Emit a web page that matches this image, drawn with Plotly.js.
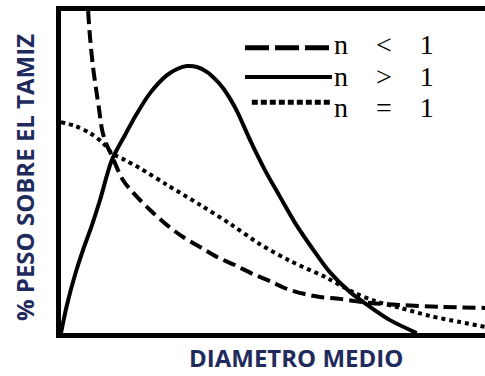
<!DOCTYPE html>
<html>
<head>
<meta charset="utf-8">
<script src="https://cdn.plot.ly/plotly-3.0.1.min.js"></script>
<style>html,body{margin:0;padding:0;background:#fff;overflow:hidden}#chart{width:485px;height:376px}</style>
</head>
<body>
<div id="chart"></div>
<script>
// Curves (arbitrary units: x 0..100 diametro, y 0..100 % peso)
const seriesNames = ["n < 1", "n > 1", "n = 1"];

const xLess = [6.4, 6.8, 7.5, 8.3, 9.0, 9.7, 10.6, 12.0, 14.6, 17.5, 21.0, 25.0, 28.8, 32.8, 36.8, 41.0, 45.3, 49.3, 53.3, 57.5, 61.1, 65.8, 69.3, 72.9, 80.0, 89.4, 100];
const yLess = [100, 92.5, 83.2, 75.5, 69.3, 63.0, 59.0, 55.0, 47.5, 42.9, 38.2, 33.5, 29.8, 26.7, 23.6, 21.1, 18.3, 16.1, 13.7, 12.1, 11.2, 10.6, 9.9, 9.3, 8.7, 8.1, 7.8];

const xMore = [0, 1.4, 3.3, 5.2, 7.3, 9.2, 12.0, 15.1, 17.0, 21.0, 25.0, 27.4, 29.7, 32.1, 34.4, 36.3, 38.2, 39.9, 41.5, 44.6, 48.1, 51.7, 55.2, 59.2, 63.4, 68.2, 72.9, 77.6, 83.9];
const yMore = [0, 8.7, 18.0, 25.8, 33.5, 41.3, 53.7, 61.5, 66.1, 74.5, 80.1, 82.0, 82.9, 82.6, 81.1, 78.9, 76.1, 72.7, 68.9, 59.9, 50.6, 42.2, 34.2, 26.4, 18.9, 12.7, 8.1, 4.0, 0];

const xEq = [0, 3.3, 6.8, 9.9, 12.0, 15.1, 18.6, 25.0, 32.8, 39.9, 46.9, 54.0, 62.3, 68.9, 74.1, 80.0, 87.0, 94.1, 100];
const yEq = [65.5, 64.3, 62.1, 59.0, 55.9, 53.7, 51.2, 46.0, 39.8, 33.9, 27.6, 22.4, 17.4, 12.7, 9.9, 7.8, 5.3, 3.4, 1.9];

const xTitle = "DIAMETRO MEDIO";
const yTitle = "% PESO SOBRE EL TAMIZ";

const dashes = ["13px,6px", "solid", "4px,4px"];
const keyDashes = ["24px,6px", "solid", "6px,3px"];
const titleColor = "#1f2b5c";

const traces = [
  {x: xLess, y: yLess, name: seriesNames[0]},
  {x: xMore, y: yMore, name: seriesNames[1]},
  {x: xEq, y: yEq, name: seriesNames[2]}
].map((t, i) => Object.assign(t, {
  type: "scatter", mode: "lines", showlegend: false, hoverinfo: "skip",
  line: {color: "#000", width: 4, dash: dashes[i], shape: "spline", smoothing: 0.9}
}));

function esc(s) { return s.replace(/&/g, "&amp;").replace(/</g, "&lt;").replace(/>/g, "&gt;"); }

// key (legend) placement in paper coords
const keyRowY = [0.886, 0.795, 0.717];
const keyTextY = [0.8975, 0.7966, 0.6988];
const keyX0 = [0.434, 0.434, 0.450];
const keyX1 = 0.639;
const keyTextX = 0.641;

const shapes = seriesNames.map((n, i) => ({
  type: "line", xref: "paper", yref: "paper",
  x0: keyX0[i], x1: keyX1, y0: keyRowY[i], y1: keyRowY[i],
  line: {color: "#000", width: i === 1 ? 4 : 5, dash: keyDashes[i]}
}));

const annotations = seriesNames.map((n, i) => ({
  xref: "paper", yref: "paper", x: keyTextX, y: keyTextY[i],
  xanchor: "left", yanchor: "middle", showarrow: false, borderpad: 0,
  text: esc(n.replace(/ /g, "\u2003")),
  font: {family: "Liberation Serif, Times New Roman, serif", size: 28, color: "#000"}
}));
annotations.push({
  xref: "paper", yref: "paper", x: (296 - 61) / 424, y: (333 - 375) / 322,
  xanchor: "center", yanchor: "bottom", showarrow: false, borderpad: 0, text: xTitle,
  font: {family: "Open Sans, sans-serif", size: 24, color: titleColor, weight: "bold"}
});
annotations.push({
  xref: "paper", yref: "paper", x: (25 - 61) / 424, y: (333 - 178) / 322,
  xanchor: "center", yanchor: "middle", showarrow: false, borderpad: 0, textangle: -90, text: yTitle,
  font: {family: "Open Sans, sans-serif", size: 24, color: titleColor, weight: "bold"}
});

const axisBase = {showgrid: false, zeroline: false, showticklabels: false, ticks: "", showline: true, linecolor: "#000"};

const layout = {
  width: 485, height: 376,
  margin: {l: 61, r: 0, t: 11, b: 43, pad: 0},
  paper_bgcolor: "#fff", plot_bgcolor: "#fff",
  xaxis: Object.assign({}, axisBase, {range: [0, 100], linewidth: 5, mirror: true}),
  yaxis: Object.assign({}, axisBase, {range: [0, 100], linewidth: 5, mirror: false}),
  shapes: shapes,
  annotations: annotations
};

Plotly.newPlot("chart", traces, layout, {displayModeBar: false, staticPlot: true});
</script>
</body>
</html>
